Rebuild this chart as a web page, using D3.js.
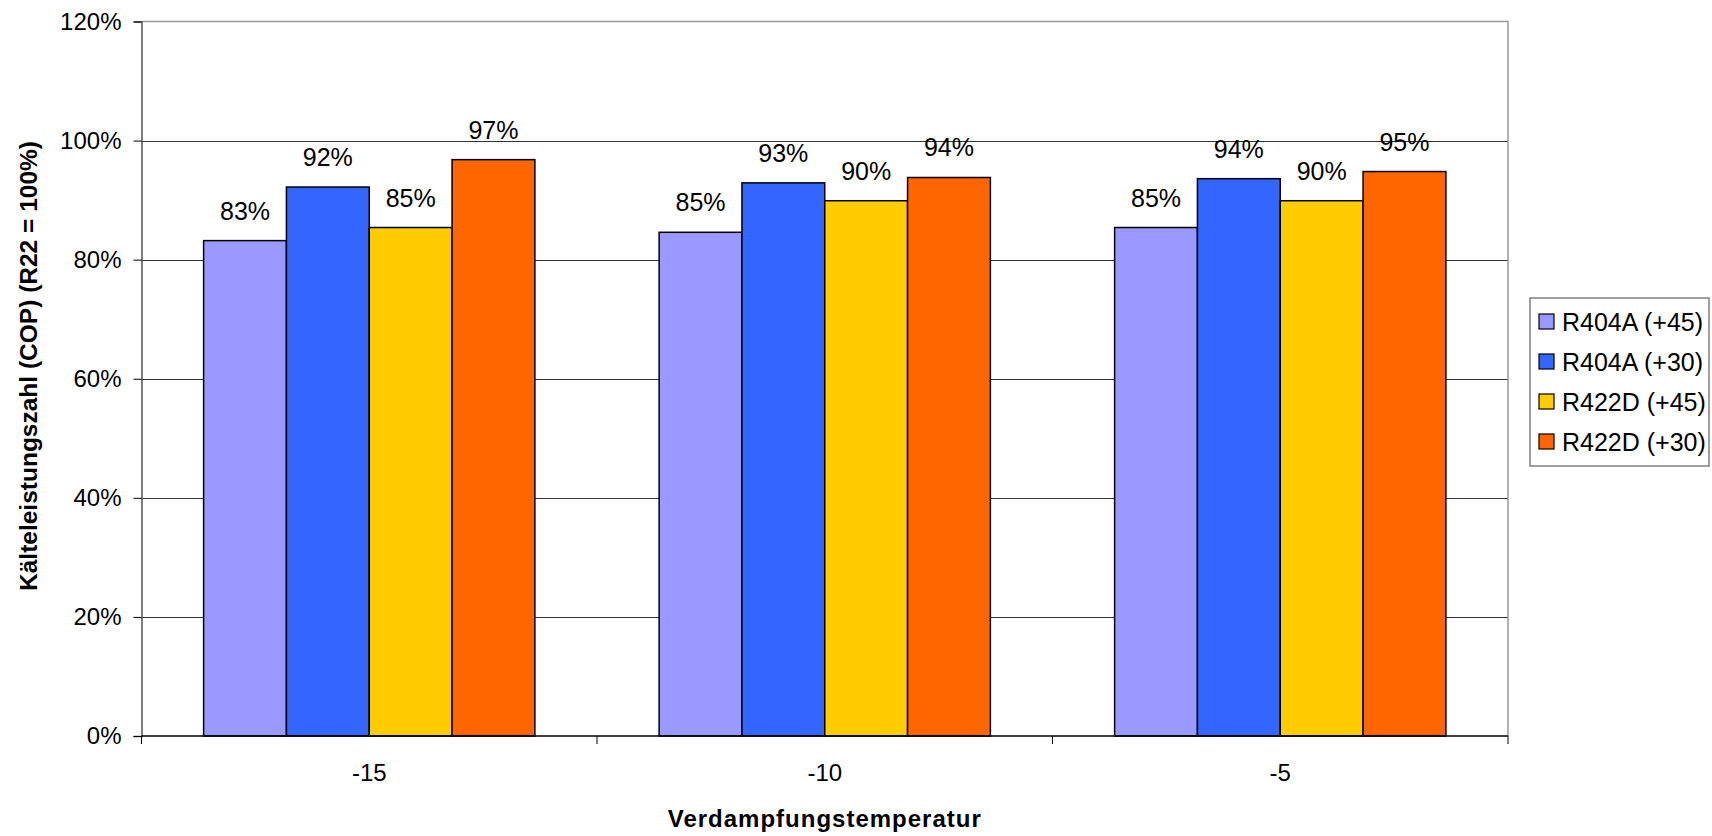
<!DOCTYPE html>
<html>
<head>
<meta charset="utf-8">
<script src="https://cdn.jsdelivr.net/npm/d3@7"></script>
<style>
  html, body { margin: 0; padding: 0; background: #fff; }
  svg { display: block; font-family: "Liberation Sans", Arial, sans-serif; }
</style>
</head>
<body>
<svg id="chart" width="1712" height="836"></svg>
<script>
// Evaporation temperatures (°C)
const categories = ["-15", "-10", "-5"];
// Refrigerant series, COP relative to R22
const seriesNames = ["R404A (+45)", "R404A (+30)", "R422D (+45)", "R422D (+30)"];
const seriesColors = ["#9999FF", "#3366FF", "#FFCC00", "#FF6600"];
const r404a45 = [0.832, 0.846, 0.854];
const r404a30 = [0.922, 0.929, 0.936];
const r422d45 = [0.854, 0.899, 0.899];
const r422d30 = [0.968, 0.938, 0.948];
const seriesValues = [r404a45, r404a30, r422d45, r422d30];
const yTicks = [0, 0.2, 0.4, 0.6, 0.8, 1.0, 1.2];

const svg = d3.select("#chart");
const plot = { left: 141.5, top: 21.5, right: 1508, bottom: 736 };

const y = d3.scaleLinear().domain([0, 1.2]).range([plot.bottom, plot.top]);
const x0 = d3.scaleBand().domain(categories).range([plot.left, plot.right]).padding(0);
// Bars take 4 of 5.5 bar widths in each category slot (gap 150%)
const groupW = x0.bandwidth() * 4 / 5.5;
const x1 = d3.scaleBand().domain(seriesNames).range([0, groupW]).padding(0);
const pct = d3.format(".0%");

// Gridlines
svg.append("g")
  .selectAll("line").data(yTicks.filter(d => d > 0 && d < 1.2)).join("line")
  .attr("x1", plot.left).attr("x2", plot.right)
  .attr("y1", d => Math.round(y(d)) + 0.5).attr("y2", d => Math.round(y(d)) + 0.5)
  .attr("stroke", "#333").attr("stroke-width", 1);

// Plot frame (top / right)
svg.append("path")
  .attr("d", `M${plot.left},${plot.top}H${plot.right}V${plot.bottom}`)
  .attr("fill", "none").attr("stroke", "#999").attr("stroke-width", 1.5);

// Bars
const groups = svg.append("g").selectAll("g").data(categories).join("g")
  .attr("transform", c => `translate(${x0(c) + (x0.bandwidth() - groupW) / 2},0)`);

const cells = (c, ci) => seriesNames.map((s, si) => ({ s, si, v: seriesValues[si][ci] }));

groups.selectAll("rect").data(cells).join("rect")
  .attr("x", d => x1(d.s))
  .attr("width", x1.bandwidth())
  .attr("y", d => y(d.v))
  .attr("height", d => y(0) - y(d.v))
  .attr("fill", d => seriesColors[d.si])
  .attr("stroke", "#000").attr("stroke-width", 1.5);

groups.selectAll("text").data(cells).join("text")
  .attr("x", d => x1(d.s) + x1.bandwidth() / 2)
  .attr("y", d => y(d.v) - 21)
  .attr("text-anchor", "middle")
  .attr("font-size", 25)
  .attr("fill", "#000")
  .text(d => pct(d.v));

// Y axis
const yAxis = svg.append("g")
  .attr("transform", `translate(${plot.left},0)`)
  .call(d3.axisLeft(y).tickValues(yTicks).tickFormat(pct).tickSize(8).tickPadding(12));
yAxis.select(".domain").attr("stroke", "#555").attr("stroke-width", 1.5);
yAxis.selectAll(".tick line").attr("stroke", "#000");
yAxis.selectAll("text").attr("font-size", 24).attr("fill", "#000")
  .attr("font-family", "Liberation Sans, Arial, sans-serif");

// X axis: ticks at category boundaries, labels centred
const xAxisG = svg.append("g").attr("transform", `translate(0,${plot.bottom})`);
xAxisG.append("line")
  .attr("x1", plot.left).attr("x2", plot.right)
  .attr("stroke", "#000").attr("stroke-width", 1.5);
const boundaries = categories.map(c => x0(c)).concat([plot.right]);
xAxisG.selectAll("line.tk").data(boundaries).join("line").attr("class", "tk")
  .attr("x1", d => d).attr("x2", d => d).attr("y1", 0).attr("y2", 8)
  .attr("stroke", "#000").attr("stroke-width", 1);
xAxisG.selectAll("text").data(categories).join("text")
  .attr("x", c => x0(c) + x0.bandwidth() / 2)
  .attr("y", 45)
  .attr("text-anchor", "middle")
  .attr("font-size", 24)
  .text(c => c);

// Axis titles
svg.append("text")
  .attr("x", (plot.left + plot.right) / 2).attr("y", 827)
  .attr("text-anchor", "middle")
  .attr("font-size", 24).attr("font-weight", "bold")
  .attr("letter-spacing", 1)
  .text("Verdampfungstemperatur");

svg.append("text")
  .attr("transform", "translate(37,366) rotate(-90)")
  .attr("text-anchor", "middle")
  .attr("font-size", 24.5).attr("font-weight", "bold")
  .text("Kälteleistungszahl (COP) (R22 = 100%)");

// Legend
const legend = svg.append("g").attr("transform", "translate(1530,298)");
legend.append("rect")
  .attr("width", 179).attr("height", 168)
  .attr("fill", "#fff").attr("stroke", "#808080").attr("stroke-width", 1.5);
const items = legend.selectAll("g").data(seriesNames).join("g")
  .attr("transform", (d, i) => `translate(0,${23.5 + i * 40})`);
items.append("rect")
  .attr("x", 9).attr("y", -7.5).attr("width", 15).attr("height", 15)
  .attr("fill", (d, i) => seriesColors[i])
  .attr("stroke", "#000").attr("stroke-width", 1.2);
items.append("text")
  .attr("x", 32).attr("y", 9)
  .attr("font-size", 25)
  .text(d => d);
</script>
</body>
</html>
